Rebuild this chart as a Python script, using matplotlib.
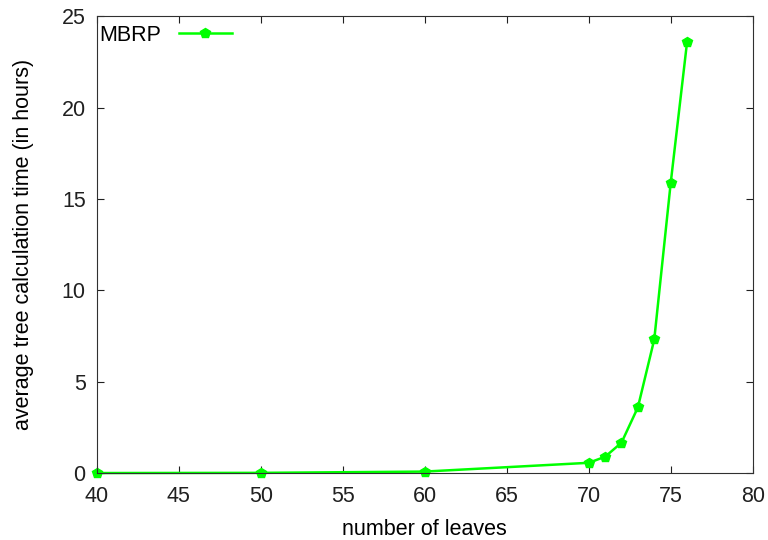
import matplotlib
matplotlib.use("Agg")
import matplotlib.pyplot as plt

plt.rcParams.update({'font.size': 15.5, 'font.family': ['Liberation Sans', 'DejaVu Sans']})

# values
leaves = [40, 50, 60, 70, 71, 72, 73, 74, 75, 76]
hours = [0.0, 0.01, 0.08, 0.56, 0.89, 1.66, 3.59, 7.31, 15.85, 23.58]

x_ticks = [40, 45, 50, 55, 60, 65, 70, 75, 80]
y_ticks = [0, 5, 10, 15, 20, 25]

fig = plt.figure(figsize=(7.68, 5.4), dpi=100)
ax = fig.add_axes([0.126, 0.124, 0.854, 0.846])

ax.plot(leaves, hours, color='#00ff00', lw=1.8, marker='p', markersize=7,
        label='MBRP', clip_on=False)

ax.set_xlim(40, 80)
ax.set_ylim(0, 25)
ax.set_xticks(x_ticks)
ax.set_yticks(y_ticks)
ax.tick_params(direction='in', top=True, right=True, length=5, width=0.8,
               labelsize=15.5, colors='#202020')
ax.tick_params(axis='x', pad=9)
ax.tick_params(axis='y', pad=8)
for s in ax.spines.values():
    s.set_linewidth(0.8)
    s.set_color('#303030')

ax.set_xlabel('number of leaves', fontsize=15.5, labelpad=9)
ax.set_ylabel('average tree calculation time (in hours)', fontsize=15.5, labelpad=20)

# key sits tight in the top-left corner, text before the sample line
ax.legend(loc='upper left', bbox_to_anchor=(-0.009, 1.0), frameon=False,
          markerfirst=False, fontsize=15.5, handlelength=2.5,
          borderaxespad=0.0, handletextpad=0.8, borderpad=0.4)

fig.savefig('out.png', dpi=100)
